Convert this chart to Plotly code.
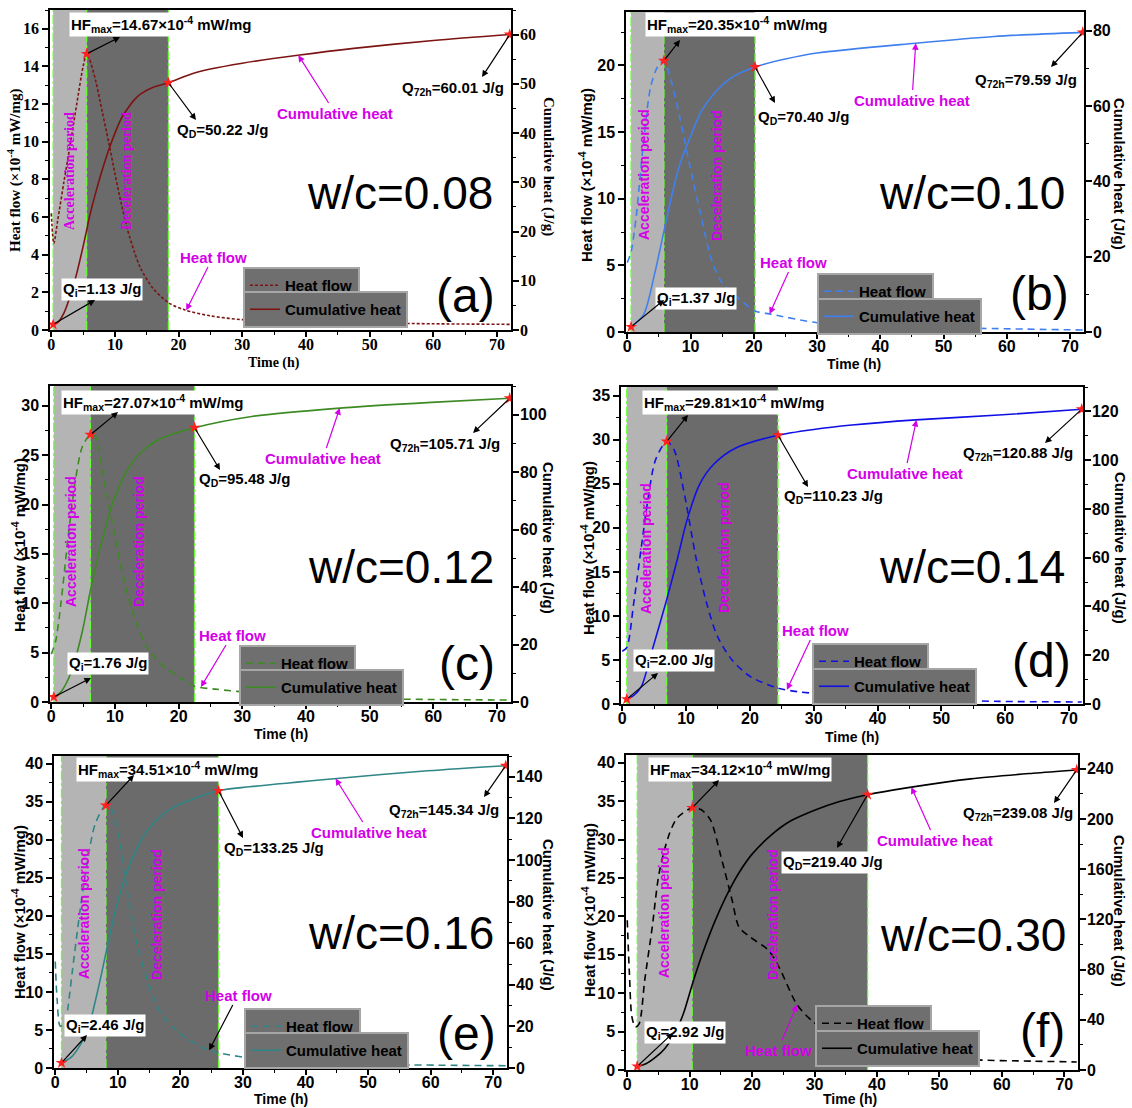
import numpy as np
import plotly.graph_objects as go

W, H = 1132, 1108

# ---------------- data ----------------
# heat flow (x10^-4 mW/mg) vs time (h)
t_hf_a = [0, 0.4, 1, 2, 3, 4, 5, 5.56, 6, 7, 8, 9, 10, 11, 12, 13, 14, 16, 18.4, 21, 25, 30, 40, 50, 60, 72]
hf_a = [6.2, 4.6, 5.8, 7.9, 9.9, 12.0, 14.0, 14.67, 14.4, 13.2, 11.6, 10.0, 8.3, 6.7, 5.3, 4.2, 3.3, 2.2, 1.45, 1.06, 0.75, 0.55, 0.45, 0.38, 0.33, 0.3]
t_hf_b = [0, 0.6, 1.4, 2.6, 3.7, 4.8, 5.8, 6.5, 8.3, 9.7, 11.7, 13.4, 15.1, 17.4, 20.2, 22.8, 30, 41, 53, 72]
hf_b = [5.2, 6.0, 8.6, 14.4, 18.4, 19.9, 20.35, 19.6, 16.1, 12.9, 8.6, 5.3, 3.6, 2.6, 1.58, 1.33, 0.7, 0.45, 0.3, 0.15]
t_hf_c = [0, 0.7, 1.5, 2.65, 3.8, 4.9, 6.15, 6.9, 8.3, 10, 11.7, 13.4, 15.1, 17.3, 20.2, 22.5, 25.8, 31.5, 42.7, 54, 72]
hf_c = [4.85, 6.2, 9.9, 16.7, 22.5, 25.9, 27.07, 26.9, 22.5, 16.7, 11.6, 7.9, 5.5, 3.8, 2.5, 1.6, 1.3, 0.95, 0.5, 0.3, 0.2]
t_hf_d = [0, 0.7, 1.8, 3.0, 4.1, 5.2, 6.95, 8.1, 9.8, 11.5, 13.2, 14.9, 17.2, 20.1, 24.4, 27.5, 36, 47.5, 59, 72]
hf_d = [6.0, 6.4, 11.5, 17.9, 23.6, 27.7, 29.81, 28.9, 23.6, 16.8, 11.5, 7.7, 5.0, 3.1, 1.8, 1.4, 0.87, 0.5, 0.3, 0.23]
t_hf_e = [0, 0.3, 0.8, 1.5, 1.9, 2.7, 3.9, 5.0, 6.4, 8.1, 9.0, 10.1, 11.2, 12.9, 14.7, 16.9, 19.8, 24.3, 26.1, 31.1, 42.5, 53.8, 72]
hf_e = [14.0, 9.0, 5.5, 5.8, 7.2, 12.5, 20.3, 26.4, 32.1, 34.51, 33.9, 30.4, 24.7, 16.8, 11.6, 7.2, 4.6, 2.4, 2.0, 1.3, 0.66, 0.44, 0.3]
t_hf_f = [0, 0.35, 0.75, 1.3, 1.9, 2.8, 4.0, 5.1, 6.6, 8.0, 10.4, 11.8, 13.3, 15.0, 16.8, 17.9, 19.7, 22.6, 24.3, 27.2, 29.6, 33, 38.5, 45, 55, 65, 72]
hf_f = [19.5, 12.5, 6.9, 5.6, 6.0, 11.7, 18.6, 25.6, 30.4, 32.8, 34.12, 33.9, 32.6, 27.8, 22.1, 18.6, 17.3, 15.6, 13.4, 8.5, 6.4, 4.5, 3.0, 2.1, 1.35, 1.15, 1.05]

# cumulative heat (J/g) vs time (h)
t_ch_a = [0.3, 1, 2, 3, 4, 5, 5.56, 6, 7, 8, 9, 10, 11, 12, 13, 14, 16, 18.4, 22, 25, 30, 38.7, 47.5, 60, 72]
ch_a = [1.13, 1.5, 3.5, 7, 11.5, 17, 20.3, 23, 28, 32.5, 36.5, 40, 43, 45, 46.7, 47.9, 49.3, 50.22, 52, 53, 54.2, 55.8, 57.2, 58.8, 60.01]
t_ch_b = [0.6, 2.6, 4.3, 5.8, 7, 8.3, 9.7, 11.7, 14, 16.8, 20.2, 25, 30, 45.5, 58, 72]
ch_b = [1.37, 4.7, 15.3, 26.8, 36, 44.5, 50.7, 58.6, 63.9, 67.9, 70.40, 72.5, 74.1, 76.7, 78.5, 79.59]
t_ch_c = [0.4, 1.5, 3.2, 4.9, 6.15, 7.7, 10, 12.3, 14.5, 17.3, 22.5, 31.5, 45.3, 59.7, 72]
ch_c = [1.76, 3.5, 10.8, 24.8, 38.8, 54, 71.4, 82, 87.8, 91.8, 95.48, 99.4, 102.3, 104.3, 105.71]
t_ch_d = [0.7, 1.8, 3.0, 4.7, 6.95, 8.7, 10.1, 12.1, 14.4, 17.8, 24.4, 30, 36, 46, 59, 72]
ch_d = [2.00, 3.5, 7.2, 22.2, 42.7, 60.1, 75, 90, 98.5, 105, 110.23, 112.6, 114.4, 116.5, 118.5, 120.88]
t_ch_e = [1.0, 2.7, 5.0, 6.7, 8.1, 9.5, 11.2, 12.9, 15.2, 18.6, 26.1, 31.1, 45, 59.5, 72]
ch_e = [2.46, 5.6, 16.8, 36, 55.2, 74.4, 92, 104.8, 116, 124.8, 133.25, 135.2, 139.2, 142.9, 145.34]
t_ch_f = [1.6, 3, 4.5, 6, 7.5, 9, 10.4, 12, 14, 16, 18, 20, 23, 26, 30, 34, 38.5, 45, 55, 65, 72]
ch_f = [2.92, 5, 10, 17, 28, 45, 68, 92, 118, 140, 158, 172, 187, 198, 207, 214, 219.40, 225, 232, 236.5, 239.08]

# characteristic points
t_ind = [0.3, 0.6, 0.4, 0.7, 1.0, 1.6]
q_ind = [1.13, 1.37, 1.76, 2.00, 2.46, 2.92]
t_peak = [5.56, 5.8, 6.15, 6.95, 8.1, 10.4]
hf_peak = [14.67, 20.35, 27.07, 29.81, 34.51, 34.12]
t_dec = [18.4, 20.2, 22.5, 24.4, 26.1, 38.5]
q_dec = [50.22, 70.40, 95.48, 110.23, 133.25, 219.40]
t_end = [72, 72, 72, 72, 72, 72]
q_72h = [60.01, 79.59, 105.71, 120.88, 145.34, 239.08]
wc_labels = ["w/c=0.08", "w/c=0.10", "w/c=0.12", "w/c=0.14", "w/c=0.16", "w/c=0.30"]
panel_letters = ["(a)", "(b)", "(c)", "(d)", "(e)", "(f)"]
x_ticks = [0, 10, 20, 30, 40, 50, 60, 70]

T_HF = [t_hf_a, t_hf_b, t_hf_c, t_hf_d, t_hf_e, t_hf_f]
HF = [hf_a, hf_b, hf_c, hf_d, hf_e, hf_f]
T_CH = [t_ch_a, t_ch_b, t_ch_c, t_ch_d, t_ch_e, t_ch_f]
CH = [ch_a, ch_b, ch_c, ch_d, ch_e, ch_f]

# ---------------- layout / style ----------------
dom_px = [(50, 511, 10, 330), (626, 1084, 12, 332), (50, 511, 386, 702),
          (621, 1083, 387, 704), (54, 507, 756, 1068), (626, 1078, 755, 1070)]
x_rng = [-0.2, 72.2]
y_rng = [[0, 17], [0, 24], [0, 32], [0, 36], [0, 41], [0, 41]]
y2_rng = [[0, 65], [0, 85], [0, 110], [0, 130], [0, 150], [0, 251]]
y_dt = [2, 5, 5, 5, 5, 5]
y2_dt = [10, 20, 20, 20, 20, 40]
colors = ["#7d1414", "#4080ee", "#3d8a24", "#1010e6", "#2f8686", "#000000"]
dashes = ["3px,2px", "7px,5px", "7px,5px", "7px,5px", "7px,5px", "7px,5px"]
fams = ["Liberation Serif"] + ["Liberation Sans"] * 5
MAG = "#d400e8"
LIGHT = "#b4b4b4"
DARK = "#6b6b6b"

# label/arrow pixel positions
hf_lab = [(161, 25), (737, 25), (153, 402), (734, 402), (168, 769), (740, 769)]
hf_head = [(120, 37), (680, 40), (118, 412), (688, 415), (134, 775), (719, 780)]
qi_lab = [(102, 290), (696, 298), (108, 663), (674, 660), (105, 1025), (685, 1032)]
qi_head = [(95, 300), (664, 300), (91, 678), (658, 673), (87, 1035), (673, 1033)]
qd_lab = [(222, 130), (803, 118), (244, 480), (833, 497), (274, 848), (833, 862)]
qd_head = [(196, 120), (775, 103), (220, 470), (808, 487), (243, 838), (837, 848)]
q72_lab = [(453, 88), (1026, 80), (445, 445), (1018, 453), (444, 810), (1018, 813)]
q72_head = [(482, 77), (1051, 67), (473, 433), (1045, 443), (484, 797), (1054, 803)]
cum_lab = [(335, 113), (912, 100), (323, 458), (905, 473), (369, 832), (935, 840)]
cum_tgt = [38.8, 45.6, 45.3, 46.1, 44.8, 45.5]
hfl_lab = [(213, 257), (793, 262), (232, 635), (815, 630), (238, 995), (778, 1050)]
hfl_tgt = [21.2, 22.5, 23.5, 25.8, 24.6, 27.2]
acc_pos = [(70, 171), (644, 175), (71, 542), (646, 548), (84, 914), (664, 912)]
dec_pos = [(127, 171), (717, 175), (139, 542), (724, 548), (157, 914), (773, 915)]
wc_pos = [(400, 193), (972, 193), (401, 567), (972, 567), (401, 933), (973, 935)]
let_pos = [(465, 295), (1039, 293), (467, 663), (1041, 660), (466, 1033), (1042, 1030)]
leg_hf = [(243, 267), (817, 273), (239, 645), (812, 643), (244, 1008), (815, 1005)]
leg_ch = [(243, 291), (817, 298), (239, 669), (812, 668), (244, 1032), (815, 1030)]
ytit_pos = [(15, 170), (585, 175), (18, 545), (588, 548), (18, 912), (588, 910)]
y2tit_pos = [(549, 166), (1120, 174), (549, 538), (1120, 548), (549, 915), (1120, 911)]
xtit_pos = [(274, 363), (854, 364), (281, 734), (852, 737), (281, 1099), (850, 1099)]


def pxp(X, Y):
    return X / W, 1 - Y / H


def p2d(i, X, Y, right=False):
    L, R, T, B = dom_px[i]
    yr = y2_rng[i] if right else y_rng[i]
    x = x_rng[0] + (X - L) / (R - L) * (x_rng[1] - x_rng[0])
    y = yr[0] + (B - Y) / (B - T) * (yr[1] - yr[0])
    return x, y


def ptext(pos, text, font, **kw):
    x0, y0 = pxp(*pos)
    d = dict(xref="paper", yref="paper", x=x0, y=y0, text=text, showarrow=False,
             xanchor="center", yanchor="middle", font=font)
    d.update(kw)
    return d


fig = go.Figure()
shapes = []
annos = []
lay = {}

for i in range(6):
    xa = "x" if i == 0 else f"x{i + 1}"
    ya = "y" if i == 0 else f"y{2 * i + 1}"
    ya2 = f"y{2 * i + 2}"
    xkey = "xaxis" if i == 0 else f"xaxis{i + 1}"
    ykey = "yaxis" if i == 0 else f"yaxis{2 * i + 1}"
    y2key = f"yaxis{2 * i + 2}"
    lg1 = "legend" if i == 0 else f"legend{2 * i + 1}"
    lg2 = f"legend{2 * i + 2}"
    L, R, T, B = dom_px[i]
    fam = fams[i]
    tfont = dict(family=fam, size=16, color="black", weight="bold")

    lay[xkey] = dict(domain=[L / W, R / W], range=x_rng, anchor=ya, showline=True,
                     linecolor="black", linewidth=1.5, mirror=True, ticks="outside",
                     ticklen=5, tickwidth=1.5, tickcolor="black", tickvals=x_ticks,
                     ticklabelstandoff=-6,
                     minor=dict(ticks="outside", ticklen=3, dtick=5, tickcolor="black", tickwidth=1.2),
                     showgrid=False, zeroline=False, tickfont=tfont, automargin=False)
    lay[ykey] = dict(domain=[1 - B / H, 1 - T / H], range=y_rng[i], anchor=xa, showline=True,
                     linecolor="black", linewidth=1.5, ticks="outside", ticklen=6, tickwidth=1.5,
                     tickcolor="black", dtick=y_dt[i], tick0=0,
                     minor=dict(ticks="outside", ticklen=3, dtick=y_dt[i] / 2, tickcolor="black", tickwidth=1.2),
                     showgrid=False, zeroline=False, tickfont=tfont, automargin=False)
    lay[y2key] = dict(range=y2_rng[i], overlaying=ya, anchor=xa, side="right", showline=True,
                      linecolor="black", linewidth=1.5, ticks="outside", ticklen=6, tickwidth=1.5,
                      tickcolor="black", dtick=y2_dt[i], tick0=0, ticklabelstandoff=-2,
                      minor=dict(ticks="outside", ticklen=3, dtick=y2_dt[i] / 2, tickcolor="black", tickwidth=1.2),
                      showgrid=False, zeroline=False, tickfont=tfont, automargin=False)

    # shaded periods
    shapes.append(dict(type="rect", xref=xa, yref=f"{ya} domain", x0=t_ind[i], x1=t_peak[i], y0=0, y1=1,
                       fillcolor=LIGHT, line=dict(width=0), layer="below"))
    shapes.append(dict(type="rect", xref=xa, yref=f"{ya} domain", x0=t_peak[i], x1=t_dec[i], y0=0, y1=1,
                       fillcolor=DARK, line=dict(width=0), layer="below"))
    for xv in (t_ind[i], t_peak[i], t_dec[i]):
        shapes.append(dict(type="line", xref=xa, yref=f"{ya} domain", x0=xv, x1=xv, y0=0, y1=1,
                           line=dict(color="#66ff33", width=1.3, dash="dashdot"), layer="below"))

    # curves
    fig.add_trace(go.Scatter(x=T_HF[i], y=HF[i], mode="lines", name="Heat flow", xaxis=xa, yaxis=ya,
                             line=dict(color=colors[i], width=1.6, dash=dashes[i], shape="spline", smoothing=0.8),
                             legend=lg1))
    fig.add_trace(go.Scatter(x=T_CH[i], y=CH[i], mode="lines", name="Cumulative heat", xaxis=xa, yaxis=ya2,
                             line=dict(color=colors[i], width=1.6, shape="spline", smoothing=0.8),
                             legend=lg2))
    # stars
    fig.add_trace(go.Scatter(x=[t_peak[i]], y=[hf_peak[i]], mode="markers", xaxis=xa, yaxis=ya,
                             marker=dict(symbol="star", size=9, color="#ff2020"), showlegend=False))
    fig.add_trace(go.Scatter(x=[t_ind[i], t_dec[i], t_end[i]], y=[q_ind[i], q_dec[i], q_72h[i]],
                             mode="markers", xaxis=xa, yaxis=ya2,
                             marker=dict(symbol="star", size=9, color="#ff2020"), showlegend=False))

    # legends (one box per item)
    for lg, pos in ((lg1, leg_hf[i]), (lg2, leg_ch[i])):
        lx, ly = pxp(*pos)
        lay[lg] = dict(x=lx, y=ly, xanchor="left", yanchor="top", bgcolor="#6f6f6f",
                       bordercolor="#a6a6a6", borderwidth=2,
                       font=dict(family="Liberation Sans", size=15, color="black", weight="bold"),
                       itemwidth=30, tracegroupgap=0)

    # axis titles
    ax_font = dict(family=fam, size=15, color="black", weight="bold")
    annos.append(ptext(ytit_pos[i], "Heat flow (×10<sup>-4</sup> mW/mg)", ax_font, textangle=-90))
    annos.append(ptext(y2tit_pos[i], "Cumulative heat (J/g)", ax_font, textangle=90))
    annos.append(ptext(xtit_pos[i], "Time (h)", dict(family=fam, size=14, color="black", weight="bold")))

    # big labels
    annos.append(ptext(wc_pos[i], wc_labels[i], dict(family="Liberation Sans", size=46, color="black")))
    annos.append(ptext(let_pos[i], panel_letters[i], dict(family="Liberation Sans", size=48, color="black")))

    # period labels
    pfont = dict(family=fam, size=14, color=MAG, weight="bold")
    annos.append(ptext(acc_pos[i], "Acceleration period", pfont, textangle=-90))
    annos.append(ptext(dec_pos[i], "Deceleration period", pfont, textangle=-90))

    # value labels
    lfont = dict(family="Liberation Sans", size=15, color="black", weight="bold")
    labs = [
        (f"HF<sub>max</sub>={hf_peak[i]:.2f}×10<sup>-4</sup> mW/mg", hf_lab[i]),
        (f"Q<sub>i</sub>={q_ind[i]:.2f} J/g", qi_lab[i]),
        (f"Q<sub>D</sub>={q_dec[i]:.2f} J/g", qd_lab[i]),
        (f"Q<sub>72h</sub>={q_72h[i]:.2f} J/g", q72_lab[i]),
    ]
    for txt, pos in labs:
        annos.append(ptext(pos, txt, lfont, bgcolor="white", borderpad=1))

    # black arrows from the starred points toward the labels
    arrows = [
        (hf_head[i], (t_peak[i], hf_peak[i]), False),
        (qi_head[i], (t_ind[i], q_ind[i]), True),
        (qd_head[i], (t_dec[i], q_dec[i]), True),
        (q72_head[i], (t_end[i], q_72h[i]), True),
    ]
    for head, tail, right in arrows:
        hx, hy = p2d(i, head[0], head[1], right)
        yr = ya2 if right else ya
        annos.append(dict(xref=xa, yref=yr, x=hx, y=hy, axref=xa, ayref=yr, ax=tail[0], ay=tail[1],
                          text="", showarrow=True, arrowhead=2, arrowsize=1.1, arrowwidth=1.2,
                          arrowcolor="black", standoff=0, startstandoff=0))

    # magenta curve labels
    mfont = dict(family="Liberation Sans", size=15, color=MAG, weight="bold")
    cy = float(np.interp(cum_tgt[i], T_CH[i], CH[i]))
    lx, ly = p2d(i, cum_lab[i][0], cum_lab[i][1], True)
    annos.append(dict(xref=xa, yref=ya2, x=cum_tgt[i], y=cy, axref=xa, ayref=ya2, ax=lx, ay=ly,
                      text="Cumulative heat", font=mfont, showarrow=True, arrowhead=2, arrowsize=1.1,
                      arrowwidth=1.2, arrowcolor=MAG, standoff=0))
    hy = float(np.interp(hfl_tgt[i], T_HF[i], HF[i]))
    lx, ly = p2d(i, hfl_lab[i][0], hfl_lab[i][1], False)
    annos.append(dict(xref=xa, yref=ya, x=hfl_tgt[i], y=hy, axref=xa, ayref=ya, ax=lx, ay=ly,
                      text="Heat flow", font=mfont, showarrow=True, arrowhead=2, arrowsize=1.1,
                      arrowwidth=1.2, arrowcolor=("black" if i == 4 else MAG), standoff=0))

fig.update_layout(width=W, height=H, margin=dict(l=0, r=0, t=0, b=0),
                  paper_bgcolor="white", plot_bgcolor="white",
                  shapes=shapes, annotations=annos, showlegend=True, **lay)

fig.write_html("out.html")
